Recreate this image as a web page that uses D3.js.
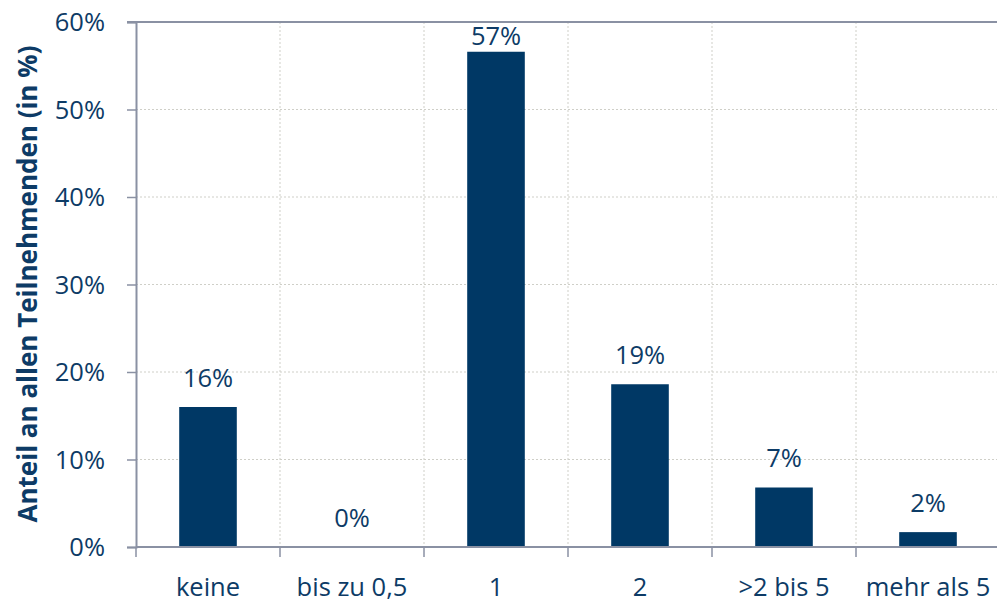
<!DOCTYPE html>
<html>
<head>
<meta charset="utf-8">
<script src="https://cdn.jsdelivr.net/npm/d3@7"></script>
<style>
  html, body { margin: 0; padding: 0; background: #fff; }
  svg { display: block; }
  text { font-family: "Open Sans", Lato, sans-serif; }
</style>
</head>
<body>
<svg id="chart" width="997" height="603"></svg>
<script>
// Anteil der Teilnehmenden je Kategorie (in %)
const categories = ["keine", "bis zu 0,5", "1", "2", ">2 bis 5", "mehr als 5"];
const shares = [16.0, 0.0, 56.6, 18.6, 6.8, 1.7];
const shareLabels = ["16%", "0%", "57%", "19%", "7%", "2%"];
const yTicks = [0, 10, 20, 30, 40, 50, 60];
const yTitle = "Anteil an allen Teilnehmenden (in %)";

const navy = "#003865";
const textColor = "#0d3b66";
const axisColor = "#8a91a3";
const gridColor = "#cfcfc8";

const margin = { top: 22, left: 136, bottom: 56, right: -3 };
const width = 997, height = 603;
const innerW = width - margin.left - margin.right;
const innerH = height - margin.top - margin.bottom;
const fontSize = 25.5;

const svg = d3.select("#chart");
const g = svg.append("g").attr("transform", `translate(${margin.left},${margin.top})`);

const x = d3.scaleBand().domain(categories).range([0, innerW]).paddingInner(0).paddingOuter(0);
const y = d3.scaleLinear().domain([0, 60]).range([innerH, 0]);

// horizontal dotted gridlines
g.append("g").selectAll("line").data(yTicks.filter(t => t > 0 && t < 60)).join("line")
  .attr("x1", 0).attr("x2", innerW)
  .attr("y1", d => y(d)).attr("y2", d => y(d))
  .attr("stroke", gridColor).attr("stroke-width", 1).attr("stroke-dasharray", "2,2");

// vertical dotted gridlines at category boundaries
g.append("g").selectAll("line").data(categories.slice(1)).join("line")
  .attr("x1", d => x(d)).attr("x2", d => x(d))
  .attr("y1", 0).attr("y2", innerH)
  .attr("stroke", gridColor).attr("stroke-width", 1).attr("stroke-dasharray", "2,2");

// bars
g.append("g").selectAll("rect").data(categories).join("rect")
  .attr("x", (d) => x(d) + x.bandwidth() * 0.3)
  .attr("width", x.bandwidth() * 0.4)
  .attr("y", (d, i) => y(shares[i]))
  .attr("height", (d, i) => innerH - y(shares[i]))
  .attr("fill", navy);

// value labels above the bars, kept inside the plot frame
g.append("g").selectAll("text").data(categories).join("text")
  .attr("x", d => x(d) + x.bandwidth() / 2)
  .attr("y", (d, i) => Math.max(y(shares[i]) - 20.5, 23))
  .attr("text-anchor", "middle")
  .attr("font-size", fontSize)
  .attr("fill", textColor)
  .text((d, i) => shareLabels[i]);

// y axis
const yAxis = g.append("g")
  .call(d3.axisLeft(y).tickValues(yTicks).tickFormat(d => d + "%").tickSize(9).tickPadding(22));
yAxis.select(".domain").attr("stroke", axisColor).attr("stroke-width", 2);
yAxis.selectAll(".tick line").attr("stroke", axisColor).attr("stroke-width", 1.5);
yAxis.selectAll(".tick text").attr("font-size", fontSize).attr("fill", textColor).attr("dy", "0.35em");

// top frame line
g.append("line").attr("x1", -9).attr("x2", innerW).attr("y1", 0).attr("y2", 0)
  .attr("stroke", axisColor).attr("stroke-width", 2);

// x axis with ticks at category boundaries
const xAxisG = g.append("g").attr("transform", `translate(0,${innerH})`);
xAxisG.append("line").attr("x1", 0).attr("x2", innerW).attr("y1", 0).attr("y2", 0)
  .attr("stroke", axisColor).attr("stroke-width", 2);
xAxisG.selectAll("line.tick").data(categories).join("line").attr("class", "tick")
  .attr("x1", d => x(d)).attr("x2", d => x(d))
  .attr("y1", 0).attr("y2", 10)
  .attr("stroke", axisColor).attr("stroke-width", 1.5);
xAxisG.selectAll("text").data(categories).join("text")
  .attr("x", d => x(d) + x.bandwidth() / 2)
  .attr("y", 49)
  .attr("text-anchor", "middle")
  .attr("font-size", fontSize)
  .attr("fill", textColor)
  .text(d => d);

// y axis title
svg.append("text")
  .attr("transform", `translate(37,284) rotate(-90)`)
  .attr("text-anchor", "middle")
  .attr("font-size", 26)
  .attr("font-weight", "bold")
  .attr("fill", textColor)
  .text(yTitle);
</script>
</body>
</html>
